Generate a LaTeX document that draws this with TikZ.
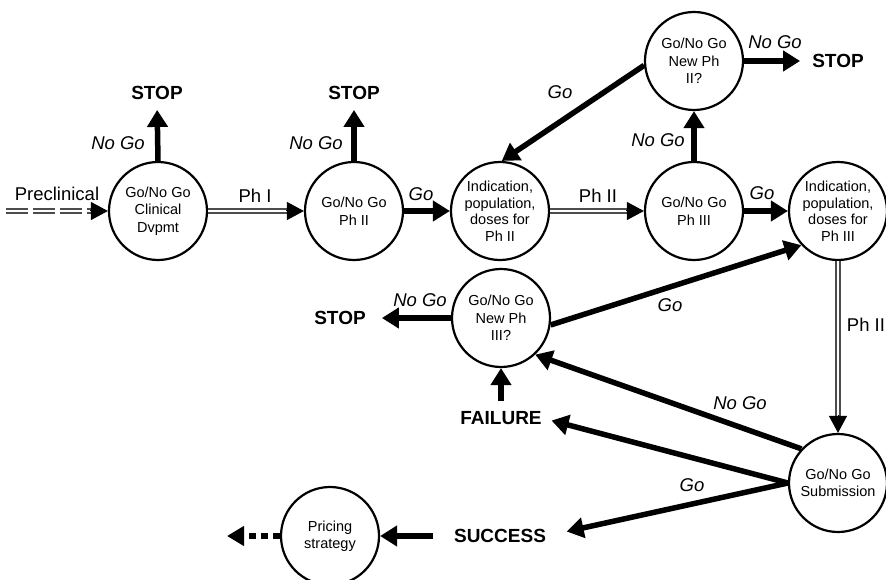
\documentclass[tikz,border=0pt]{standalone}
\usepackage{fontspec}
\setmainfont{Liberation Sans}
\usetikzlibrary{arrows.meta,calc}
\begin{document}
\begin{tikzpicture}[x=1pt,y=-1pt,
  state/.style={circle,draw,line width=2.2pt,minimum size=98pt,inner sep=0pt,align=center,font=\fontsize{14.5}{17.5}\selectfont},
  term/.style={font=\fontsize{19}{22}\selectfont\bfseries,inner sep=0pt},
  lbl/.style={font=\fontsize{18.5}{21}\selectfont,inner sep=0pt},
  ilbl/.style={font=\fontsize{18.5}{21}\selectfont\itshape,inner sep=0pt},
  thk/.style={line width=5.5pt,-{Triangle[length=17pt,width=20pt]}},
  dbl/.style={double,draw=black!70,line width=1.8pt,double distance=2.6pt},
  dtip/.style={line width=1pt,-{Triangle[length=17pt,width=18pt]}},
]
\fill[white] (0,0) rectangle (886,580);
\useasboundingbox (0,0) rectangle (886,580);

% states
\node[state] (C1) at (158,211) {Go/No Go\\Clinical\\Dvpmt};
\node[state] (C2) at (354,211) {Go/No Go\\Ph II};
\node[state,font=\fontsize{14.5}{16.5}\selectfont] (C3) at (500,211) {Indication,\\population,\\doses for\\Ph II};
\node[state] (C4) at (694,211) {Go/No Go\\Ph III};
\node[state] (C5) at (694,61) {Go/No Go\\New Ph\\II?};
\node[state,font=\fontsize{14.5}{16.5}\selectfont] (C6) at (838,211) {Indication,\\population,\\doses for\\Ph III};
\node[state] (C7) at (501,318) {Go/No Go\\New Ph\\III?};
\node[state] (C8) at (838,483) {Go/No Go\\Submission};
\node[state] (P) at (330,536) {Pricing\\strategy};

% terminal words
\node[term] (stop1) at (157,93) {STOP};
\node[term] (stop2) at (354,93) {STOP};
\node[term] (stop3) at (838,61) {STOP};
\node[term] (stop4) at (340,318) {STOP};
\node[term] (fail) at (501,418) {FAILURE};
\node[term] (succ) at (500,536) {SUCCESS};
\coordinate (pre) at (6,211);
\coordinate (pend) at (227,536);

% labels
\node[lbl] (lpre) at (57,194) {Preclinical};
\node[lbl] (lph1) at (255,196) {Ph I};
\node[lbl] (lph2) at (598,196) {Ph II};
\node[lbl] (lph3) at (866,325) {Ph II};
\node[ilbl] (ng1) at (118,143) {No Go};
\node[ilbl] (ng2) at (316,143) {No Go};
\node[ilbl] (ng3) at (658,140) {No Go};
\node[ilbl] (ng4) at (775,42) {No Go};
\node[ilbl] (ng5) at (420,300) {No Go};
\node[ilbl] (ng6) at (740,403) {No Go};
\node[ilbl] (g1) at (421,194) {Go};
\node[ilbl] (g2) at (762,193) {Go};
\node[ilbl] (g3) at (560,92) {Go};
\node[ilbl] (g4) at (670,305) {Go};
\node[ilbl] (g5) at (692,485) {Go};

% double (phase) connectors
\draw[dbl,dash pattern=on 22pt off 5pt] (pre) -- ($(C1.west)+(-15,0)$);
\draw[dtip] ($(C1.west)+(-18,0)$) -- (C1.west);
\draw[dbl] (C1.east) -- ($(C2.west)+(-15,0)$);
\draw[dtip] ($(C2.west)+(-18,0)$) -- (C2.west);
\draw[dbl] (C3.east) -- ($(C4.west)+(-15,0)$);
\draw[dtip] ($(C4.west)+(-18,0)$) -- (C4.west);
\draw[dbl] (C6.south) -- ($(C8.north)+(0,-15)$);
\draw[dtip] ($(C8.north)+(0,-18)$) -- (C8.north);

% thick connectors
\draw[thk,shorten >=10pt] (C1.north) -- (stop1.south);
\draw[thk,shorten >=10pt] (C2.north) -- (stop2.south);
\draw[thk] (C2.east) -- (C3.west);
\draw[thk] (C4.east) -- (C6.west);
\draw[thk] (C4.north) -- (C5.south);
\draw[thk,shorten >=12pt] (C5.east) -- (stop3.west);
\draw[thk] (C5.185) -- (C3.88);
\draw[thk] (C7.-8) -- (C6.-137);
\draw[thk,shorten >=16pt] (C7.west) -- (stop4.east);
\draw[thk,shorten <=10pt] (fail.north) -- (C7.south);
\draw[thk] (C8.137) -- (C7.-47);
\draw[thk,shorten >=10pt] (C8.west) -- (fail.east);
\draw[thk,shorten >=21pt] (C8.west) -- (succ.east);
\draw[thk,shorten <=21pt] (succ.west) -- (P.east);
\draw[line width=5.5pt,dash pattern=on 7pt off 5pt,-{Triangle[length=17pt,width=19pt]}] (P.west) -- (pend);
\end{tikzpicture}
\end{document}
